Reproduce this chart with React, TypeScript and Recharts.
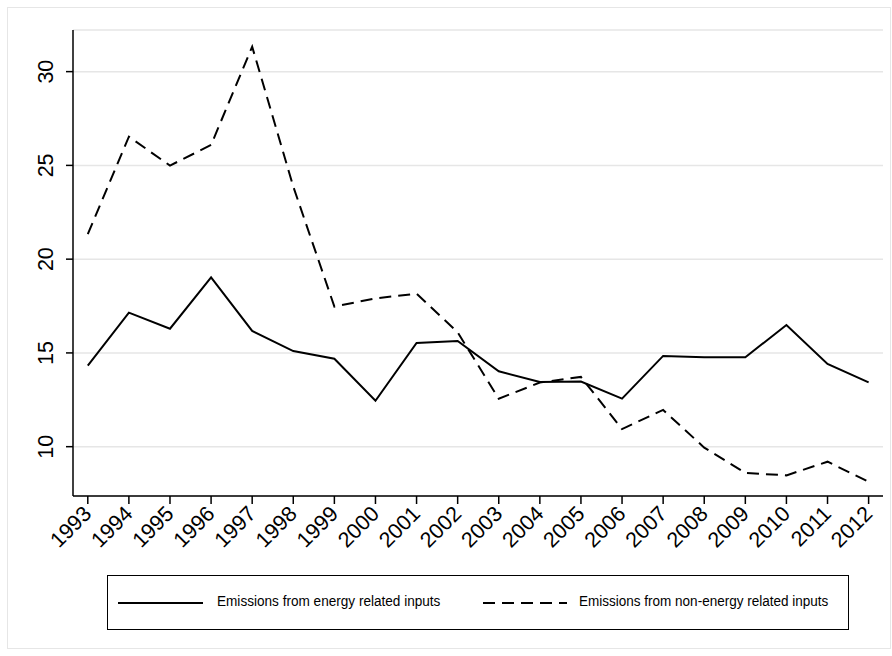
import { LineChart, Line, XAxis, YAxis, CartesianGrid } from 'recharts';

const years = [1993, 1994, 1995, 1996, 1997, 1998, 1999, 2000, 2001, 2002, 2003, 2004, 2005, 2006, 2007, 2008, 2009, 2010, 2011, 2012];
const energyInputs = [14.32, 17.15, 16.29, 19.03, 16.17, 15.1, 14.69, 12.45, 15.53, 15.64, 14.02, 13.45, 13.47, 12.56, 14.84, 14.77, 14.77, 16.49, 14.41, 13.43];
const nonEnergyInputs = [21.33, 26.53, 24.99, 26.09, 31.33, 23.87, 17.47, 17.91, 18.16, 16.1, 12.56, 13.42, 13.72, 10.94, 11.96, 9.95, 8.6, 8.47, 9.2, 8.13];
const yTicks = [10, 15, 20, 25, 30];
const seriesNames = ['Emissions from energy related inputs', 'Emissions from non-energy related inputs'];

const FONT = '"Liberation Sans", Arial, sans-serif';

const data = years.map((year, i) => ({
  year,
  energy: energyInputs[i],
  nonEnergy: nonEnergyInputs[i],
}));

const XTick = ({ x, y, payload }: any) => (
  <text
    x={x + 5}
    y={y + 9}
    textAnchor="end"
    fontSize={21.5}
    fontFamily={FONT}
    fill="#000"
    transform={`rotate(-45, ${x + 5}, ${y + 9})`}
  >
    {payload.value}
  </text>
);

const YTick = ({ x, y, payload }: any) => (
  <text
    x={x - 11}
    y={y}
    textAnchor="middle"
    fontSize={21.5}
    fontFamily={FONT}
    fill="#000"
    transform={`rotate(-90, ${x - 11}, ${y})`}
  >
    {payload.value}
  </text>
);

export default function App() {
  return (
    <div style={{ position: 'absolute', left: 0, top: 0, width: 892, height: 656, background: '#fff' }}>
      <div
        style={{
          position: 'absolute',
          left: 7,
          top: 7,
          width: 884,
          height: 642,
          border: '1px solid #e6e6e6',
          boxSizing: 'border-box',
        }}
      />
      <LineChart width={892} height={656} data={data} margin={{ top: 30, right: 9, bottom: 0, left: 0 }}>
        <CartesianGrid vertical={false} stroke="#e6e6e6" strokeWidth={1.5} />
        <XAxis
          dataKey="year"
          type="number"
          domain={[1992.64, 2012.35]}
          ticks={years}
          interval={0}
          height={160}
          tickSize={8}
          axisLine={{ stroke: '#000', strokeWidth: 1.5 }}
          tickLine={{ stroke: '#000', strokeWidth: 1.5 }}
          tick={<XTick />}
          allowDataOverflow
        />
        <YAxis
          type="number"
          domain={[7.37, 32.22]}
          ticks={yTicks}
          width={73}
          tickSize={7}
          axisLine={{ stroke: '#000', strokeWidth: 1.5 }}
          tickLine={{ stroke: '#000', strokeWidth: 1.5 }}
          tick={<YTick />}
          allowDataOverflow
        />
        <Line
          type="linear"
          dataKey="energy"
          stroke="#000"
          strokeWidth={2}
          dot={false}
          isAnimationActive={false}
        />
        <Line
          type="linear"
          dataKey="nonEnergy"
          stroke="#000"
          strokeWidth={2}
          strokeDasharray="12 7"
          dot={false}
          isAnimationActive={false}
        />
      </LineChart>
      <div
        style={{
          position: 'absolute',
          left: 107,
          top: 575,
          width: 742,
          height: 55,
          border: '1px solid #000',
          boxSizing: 'border-box',
          fontFamily: FONT,
          fontSize: 14,
        }}
      >
        <svg style={{ position: 'absolute', left: 0, top: 0 }} width={740} height={53}>
          <line x1={10} x2={95} y1={27} y2={27} stroke="#000" strokeWidth={2} />
          <line x1={375} x2={459} y1={27} y2={27} stroke="#000" strokeWidth={2} strokeDasharray="12 7" />
        </svg>
        <span
          style={{
            position: 'absolute',
            left: 109,
            top: 17,
            whiteSpace: 'nowrap',
            transform: 'scaleX(0.97)',
            transformOrigin: 'left center',
          }}
        >
          {seriesNames[0]}
        </span>
        <span
          style={{
            position: 'absolute',
            left: 471,
            top: 17,
            whiteSpace: 'nowrap',
            transform: 'scaleX(0.965)',
            transformOrigin: 'left center',
          }}
        >
          {seriesNames[1]}
        </span>
      </div>
    </div>
  );
}
